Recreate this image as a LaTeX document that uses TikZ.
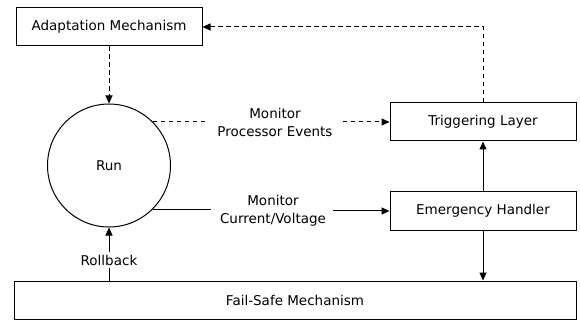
\documentclass[tikz,border=0pt]{standalone}
\usepackage{fontspec}
\setmainfont{DejaVu Sans}
\usetikzlibrary{arrows.meta}
\begin{document}
\begin{tikzpicture}[x=1pt,y=-1pt,
  every node/.style={font=\fontsize{13.5}{18}\selectfont},
  box/.style={draw,line width=1pt,rectangle,minimum height=38pt,inner sep=0pt},
  lbl/.style={align=center,inner sep=3pt},
  conn/.style={line width=1pt},
  dconn/.style={line width=1pt,dash pattern=on 4.5pt off 3.5pt},
  tip/.style={-{Triangle[length=8pt,width=7pt]}}]
\useasboundingbox (0,0) rectangle (580,320);

% blocks
\node[box,minimum width=186pt] (adapt) at (109,27) {Adaptation Mechanism};
\node[box,minimum width=186pt] (trig)  at (483,122) {Triggering Layer};
\node[box,minimum width=186pt] (emerg) at (483,211) {Emergency Handler};
\node[box,minimum width=562pt] (fail)  at (295,300) {Fail-Safe Mechanism};
\node[draw,circle,line width=1pt,minimum size=123pt,inner sep=0pt] (run) at (109,165.5) {Run};

% connector labels
\node[lbl] (mpe) at (275,122) {Monitor\\Processor Events};
\node[lbl] (mcv) at (273,211) {Monitor\\Current/Voltage};
\node[lbl] (rb)  at (109,260) {Rollback};

% adaptation path
\draw[dconn,tip] (adapt.south) -- (run.north);
\draw[dconn,tip] (trig.north) |- (adapt.east);

% processor events
\draw[dconn] (run.north east) -- ([xshift=-7pt]mpe.west |- run.north east);
\draw[dconn,tip] ([xshift=7pt]mpe.east |- trig.west) -- (trig.west);

% current / voltage
\draw[conn] (run.south east) -- ([xshift=-6pt]mcv.west |- run.south east);
\draw[conn,tip] ([xshift=4pt]mcv.east |- emerg.west) -- (emerg.west);

% emergency handling
\draw[conn,tip] (emerg.north) -- (trig.south);
\draw[conn,tip] (emerg.south) -- (fail.north -| emerg.south);

% rollback
\draw[conn] (fail.north -| run.south) -- (rb.south);
\draw[conn,tip] (rb.north) -- (run.south);
\end{tikzpicture}
\end{document}
